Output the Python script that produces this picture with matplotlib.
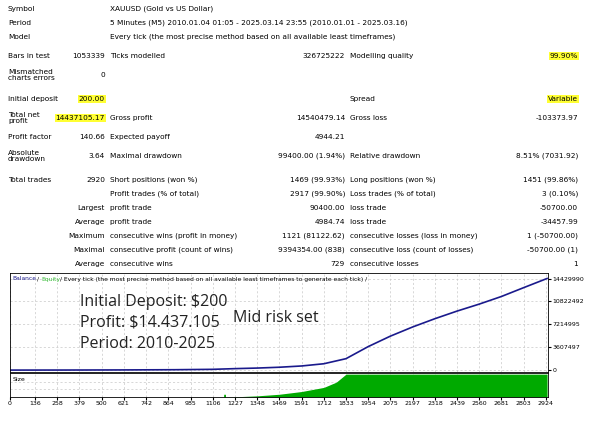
import matplotlib
matplotlib.use("Agg")
import matplotlib.pyplot as plt

trade_x = [0, 300, 600, 900, 1106, 1227, 1348, 1469, 1591, 1712, 1833, 1954, 2075, 2197, 2318, 2439, 2560, 2681, 2803, 2930]
balance = [200, 8000, 25000, 60000, 120000, 230000, 320000, 450000, 650000, 1000000, 1800000, 3700000, 5350000, 6800000, 8100000, 9300000, 10400000, 11600000, 13000000, 14437105]
size_x = [0, 1165, 1166, 1175, 1176, 1260, 1348, 1469, 1591, 1712, 1780, 1833, 2930]
size_v = [0, 0, 0.12, 0.12, 0, 0.02, 0.05, 0.12, 0.24, 0.42, 0.65, 1.0, 1.0]
xticks = [0, 136, 258, 379, 500, 621, 742, 864, 985, 1106, 1227, 1348, 1469, 1591, 1712, 1833, 1954, 2075, 2197, 2318, 2439, 2560, 2681, 2803, 2924]
yticks = [0, 3607497, 7214995, 10822492, 14429990]

rows = [
    (9, "Symbol", "", "XAUUSD (Gold vs US Dollar)", "", "", ""),
    (23, "Period", "", "5 Minutes (M5) 2010.01.04 01:05 - 2025.03.14 23:55 (2010.01.01 - 2025.03.16)", "", "", ""),
    (37, "Model", "", "Every tick (the most precise method based on all available least timeframes)", "", "", ""),
    (56, "Bars in test", "1053339", "Ticks modelled", "326725222", "Modelling quality", "99.90%"),
    (75, "Mismatched\ncharts errors", "0", "", "", "", ""),
    (99, "Initial deposit", "200.00", "", "", "Spread", "Variable"),
    (118, "Total net\nprofit", "14437105.17", "Gross profit", "14540479.14", "Gross loss", "-103373.97"),
    (137, "Profit factor", "140.66", "Expected payoff", "4944.21", "", ""),
    (156, "Absolute\ndrawdown", "3.64", "Maximal drawdown", "99400.00 (1.94%)", "Relative drawdown", "8.51% (7031.92)"),
    (180, "Total trades", "2920", "Short positions (won %)", "1469 (99.93%)", "Long positions (won %)", "1451 (99.86%)"),
    (194, "", "", "Profit trades (% of total)", "2917 (99.90%)", "Loss trades (% of total)", "3 (0.10%)"),
    (208, "", "Largest", "profit trade", "90400.00", "loss trade", "-50700.00"),
    (222, "", "Average", "profit trade", "4984.74", "loss trade", "-34457.99"),
    (236, "", "Maximum", "consecutive wins (profit in money)", "1121 (81122.62)", "consecutive losses (loss in money)", "1 (-50700.00)"),
    (250, "", "Maximal", "consecutive profit (count of wins)", "9394354.00 (838)", "consecutive loss (count of losses)", "-50700.00 (1)"),
    (264, "", "Average", "consecutive wins", "729", "consecutive losses", "1"),
]
highlight = {"99.90%", "200.00", "Variable", "14437105.17"}

fig = plt.figure(figsize=(6, 4.32), dpi=100)
def P(x, y):
    return x / 600, 1 - y / 432
fs = 5.3
for y, l1, v1, l2, v2, l3, v3 in rows:
    fig.text(*P(8, y), l1, fontsize=fs, va="center", ha="left", linespacing=1.1)
    for txt, xr in ((v1, 105), (v2, 345), (v3, 578)):
        if txt:
            bb = dict(facecolor="#ffff33", edgecolor="none", pad=0.6) if txt in highlight else None
            fig.text(*P(xr, y), txt, fontsize=fs, va="center", ha="right", bbox=bb)
    fig.text(*P(110, y), l2, fontsize=fs, va="center", ha="left")
    fig.text(*P(350, y), l3, fontsize=fs, va="center", ha="left")

L, R = 10 / 600, 548 / 600
ax = fig.add_axes([L, 1 - 372 / 432, R - L, 99 / 432])
ax2 = fig.add_axes([L, 1 - 397 / 432, R - L, 24 / 432], sharex=ax)
ax.plot(trade_x, balance, color="#1a1a8c", lw=1.2)
ax.set_xlim(0, 2935)
ax.set_ylim(-300000, 15300000)
ax.set_yticks(yticks)
ax.set_yticklabels([str(v) for v in yticks], fontsize=4.5)
ax.yaxis.tick_right()
ax.tick_params(axis="y", length=2, pad=1)
ax.tick_params(axis="x", bottom=False, labelbottom=False)
ax.set_xticks(xticks)
for a in (ax, ax2):
    a.set_axisbelow(True)
    a.grid(True, color="#c8c8c8", ls=(0, (3, 3)), lw=0.5)
    for s in a.spines.values():
        s.set_linewidth(0.6)
ax2.fill_between(size_x, 0, size_v, color="#00aa00", lw=0)
ax2.set_ylim(0, 1.05)
ax2.set_yticks([0.33, 0.66])
ax2.tick_params(axis="y", left=False, right=False, labelleft=False)
ax2.set_xticks(xticks)
ax2.set_xticklabels([str(v) for v in xticks], fontsize=4.5)
ax2.tick_params(axis="x", length=2, pad=1)
ax2.text(0.005, 0.85, "Size", transform=ax2.transAxes, fontsize=4.5, va="top")

fig.text(*P(12, 279), "Balance", fontsize=4.3, color="#1a1a8c", va="center")
fig.text(*P(37, 279), "/", fontsize=4.3, va="center")
fig.text(*P(41, 279), "Equity", fontsize=4.3, color="#33bb33", va="center")
fig.text(*P(60, 279), "/ Every tick (the most precise method based on all available least timeframes to generate each tick) /", fontsize=4.3, va="center")
for y, t in ((302, "Initial Deposit: $200"), (323, "Profit: $14.437.105"), (344, "Period: 2010-2025")):
    fig.text(*P(80, y), t, fontsize=11.5, va="center", family="Open Sans", color="#222222")
fig.text(*P(233, 318), "Mid risk set", fontsize=11.5, va="center", family="Open Sans", color="#222222")
fig.savefig("out.png", dpi=100)
